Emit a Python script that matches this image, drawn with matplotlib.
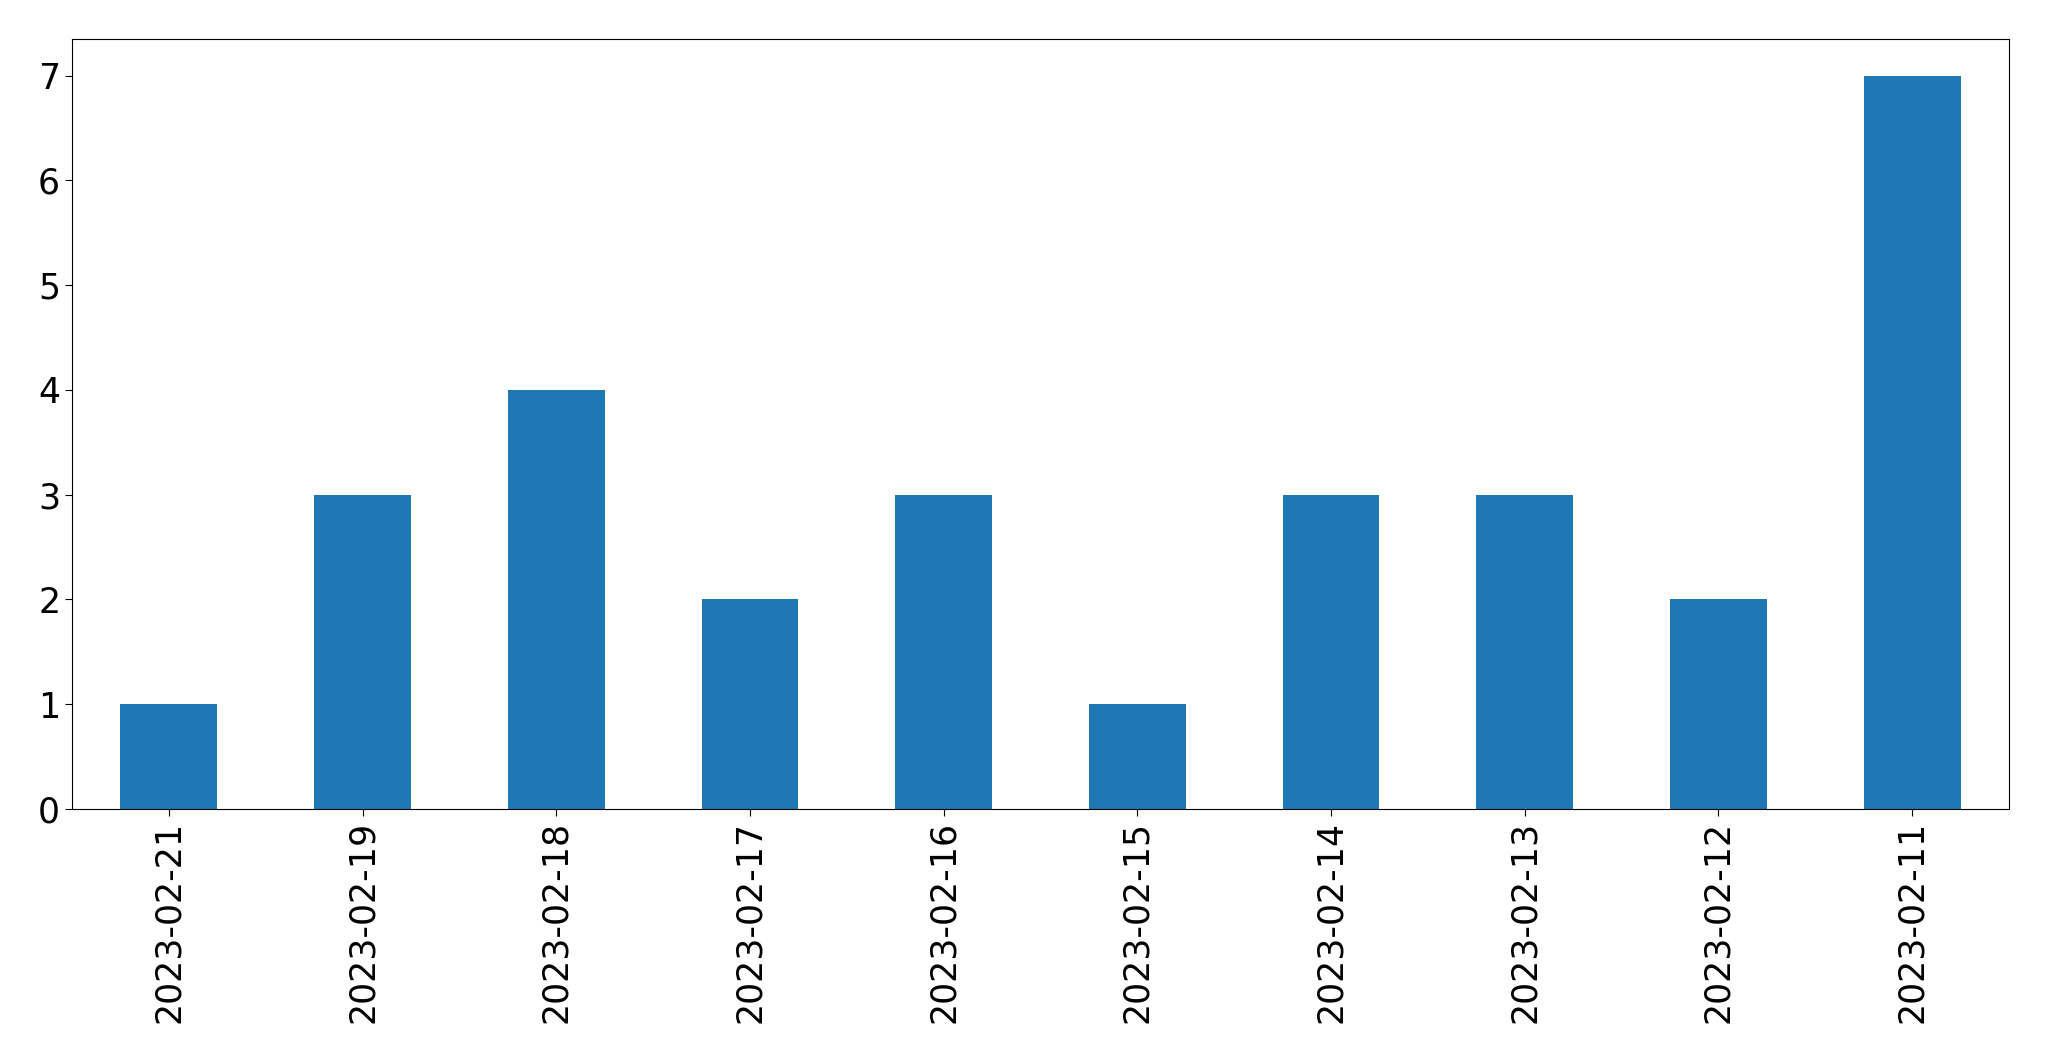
import matplotlib
matplotlib.use("Agg")
import matplotlib.pyplot as plt

dates = ["2023-02-21", "2023-02-19", "2023-02-18", "2023-02-17", "2023-02-16",
         "2023-02-15", "2023-02-14", "2023-02-13", "2023-02-12", "2023-02-11"]
counts = [1, 3, 4, 2, 3, 1, 3, 3, 2, 7]

W, H = 2049, 1061
fig = plt.figure(figsize=(W / 100, H / 100), dpi=100)
ax = fig.add_axes([72 / W, (H - 809) / H, (2009 - 72) / W, (809 - 39) / H])
x = list(range(len(dates)))
ax.bar(x, counts, width=0.5, color="#1f77b4")
ax.set_xlim(-0.5, len(dates) - 0.5)
ax.set_ylim(0, 7 * 1.05)
ax.set_xticks(x)
ax.set_xticklabels(dates, rotation=90)
ax.tick_params(axis="both", labelsize=25, length=5)
fig.savefig("out.png", dpi=100)
